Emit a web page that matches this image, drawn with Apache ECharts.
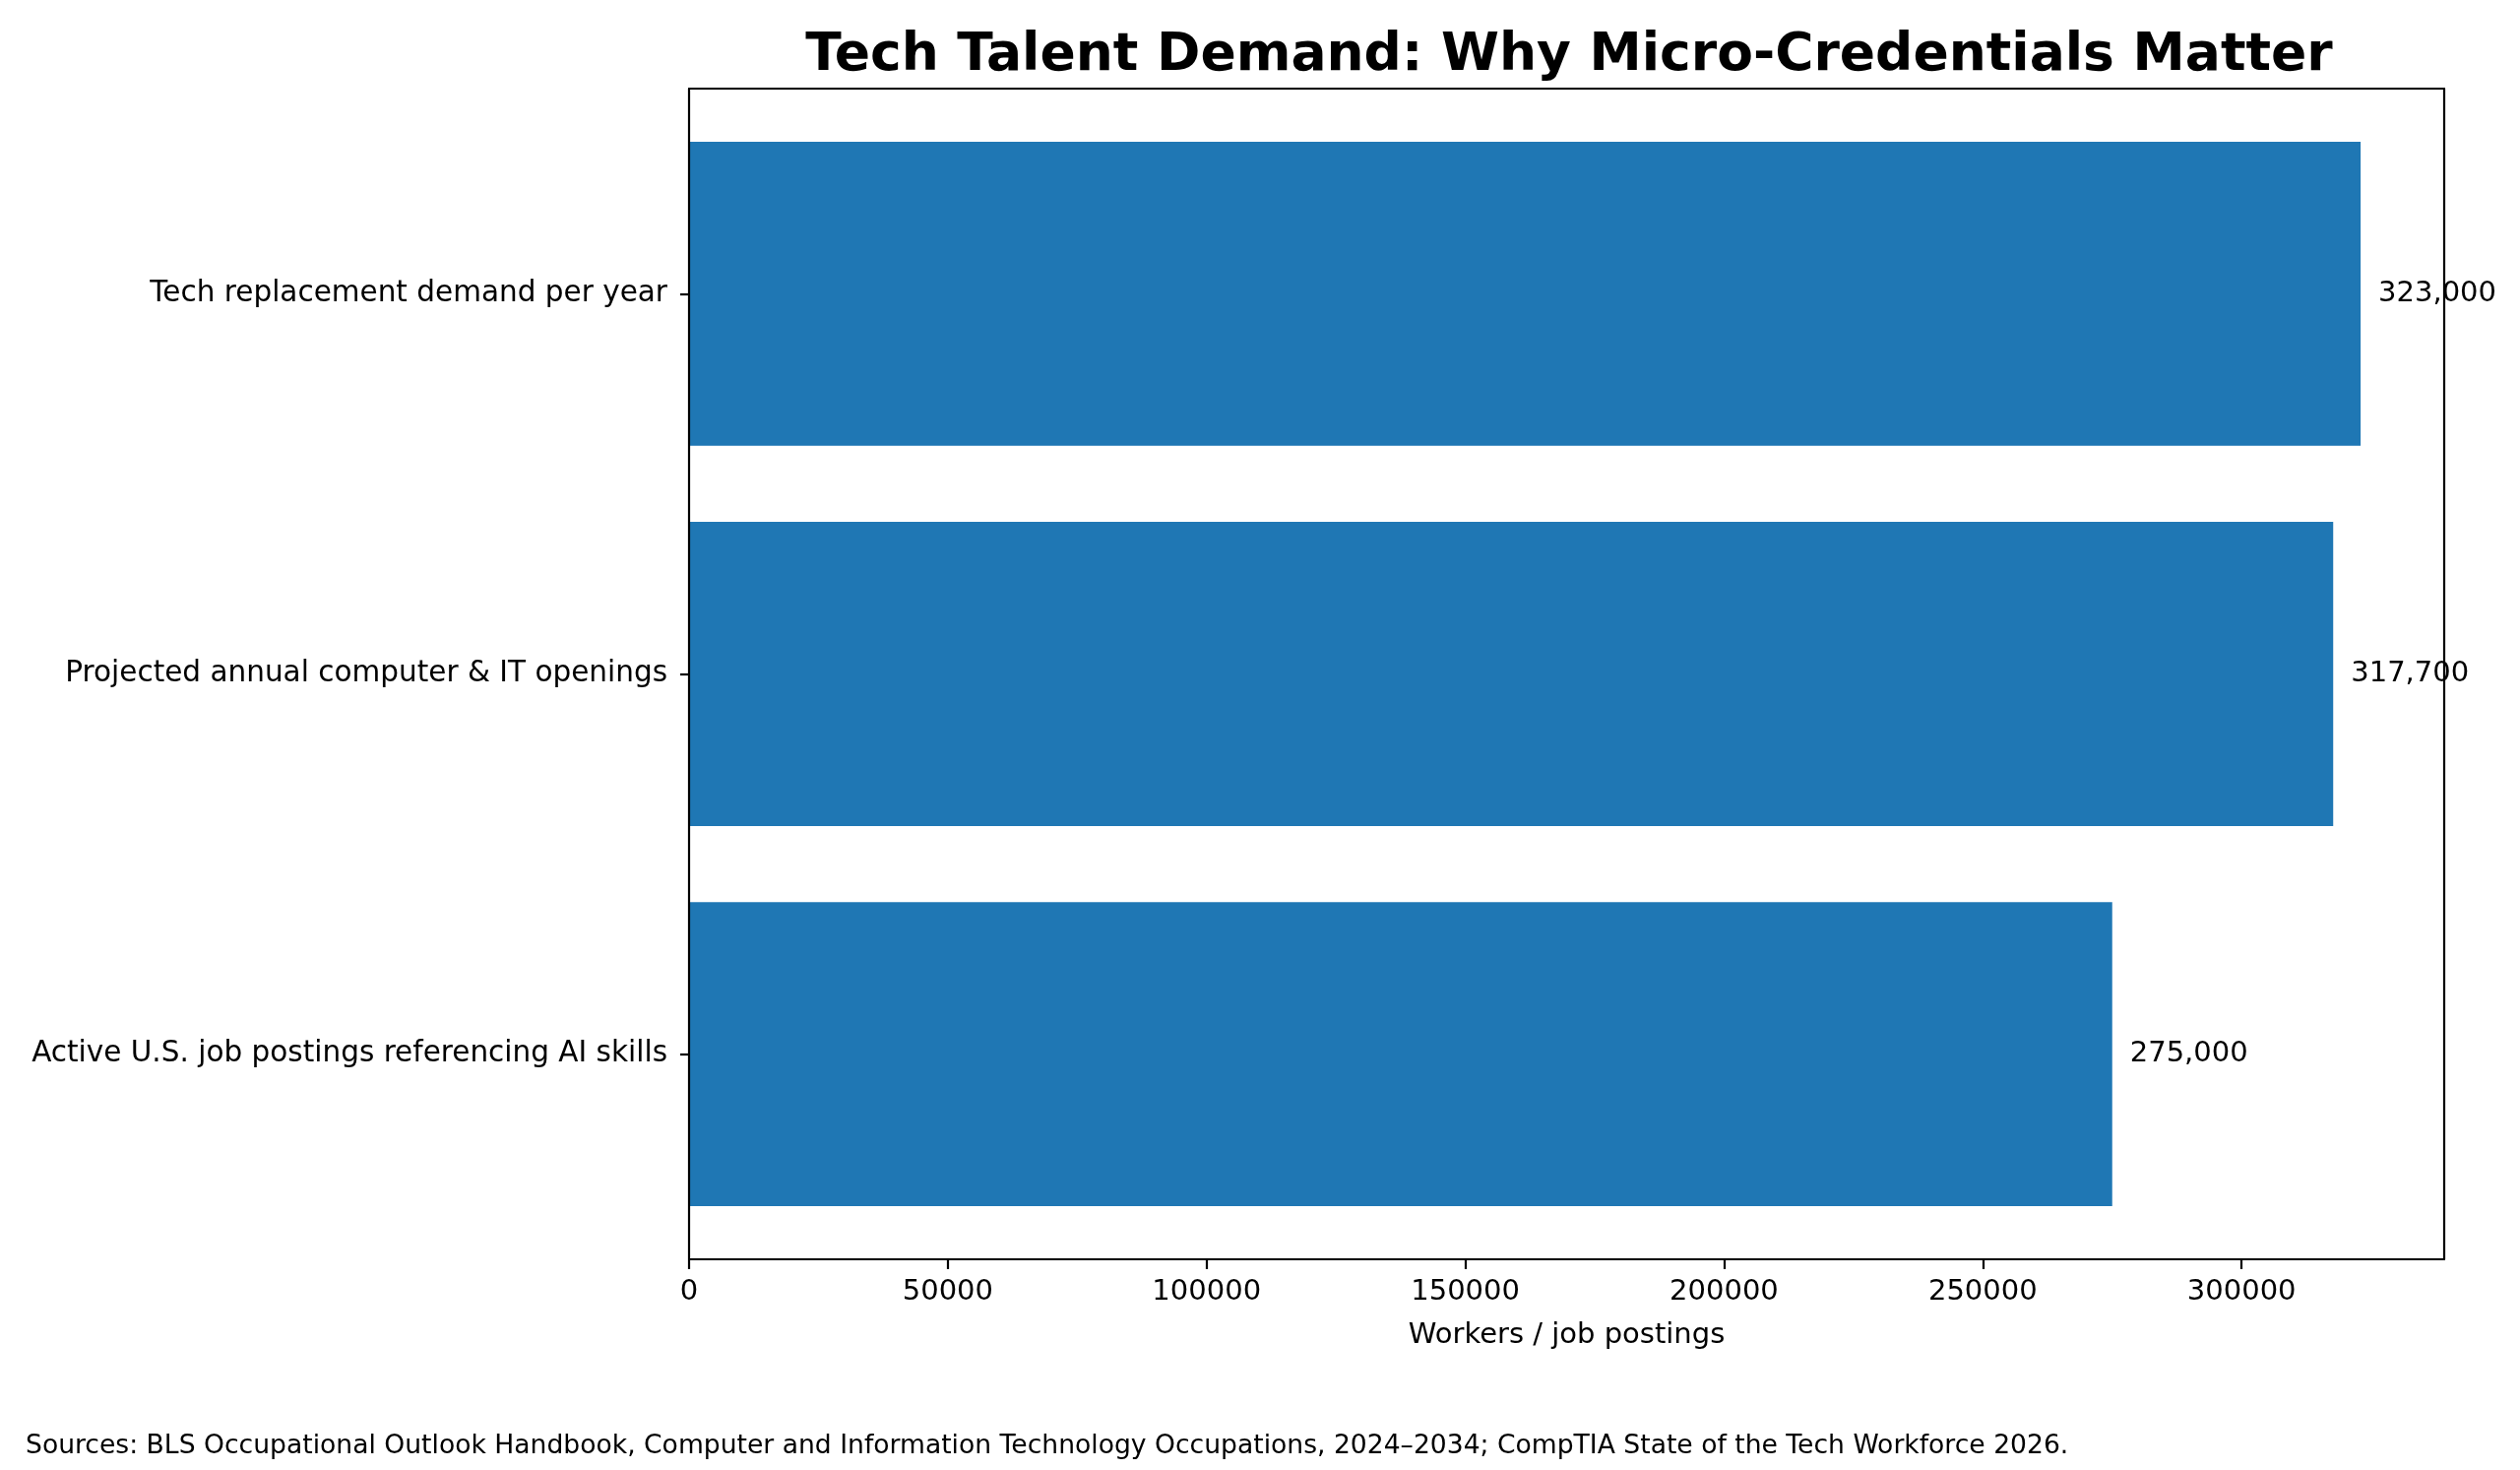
<!DOCTYPE html>
<html>
<head>
<meta charset="utf-8">
<script src="https://cdn.jsdelivr.net/npm/echarts@6/dist/echarts.min.js"></script>
<style>
html,body{margin:0;padding:0;background:#fff;}
#chart{width:2560px;height:1493px;}
</style>
</head>
<body>
<div id="chart"></div>
<script>
const categories = [
  "Tech replacement demand per year",
  "Projected annual computer & IT openings",
  "Active U.S. job postings referencing AI skills"
];
const values = [323000, 317700, 275000];
const xTicks = [0, 50000, 100000, 150000, 200000, 250000, 300000];
const xMax = 339150;
const titleText = "Tech Talent Demand: Why Micro-Credentials Matter";
const xAxisTitle = "Workers / job postings";
const sourceText = "Sources: BLS Occupational Outlook Handbook, Computer and Information Technology Occupations, 2024\u20132034; CompTIA State of the Tech Workforce 2026.";

const FONT = "DejaVu Sans";
const chart = echarts.init(document.getElementById('chart'), null, {renderer: 'canvas'});
const frameLine = {show: true, onZero: false, lineStyle: {color: '#000', width: 2.2}};

const option = {
  backgroundColor: '#fff',
  animation: false,
  textStyle: {fontFamily: FONT, color: '#000'},
  graphic: [
    {type: 'text', x: 1594, y: 57, style: {text: titleText, font: 'bold 53.5px "DejaVu Sans"', fill: '#000', align: 'center', verticalAlign: 'middle'}},
    {type: 'text', x: 26, y: 1469, style: {text: sourceText, font: '26.6px "DejaVu Sans"', fill: '#000', align: 'left', verticalAlign: 'middle'}}
  ],
  grid: [
    {left: 700, right: 77, top: 90, bottom: 214, containLabel: false},
    {left: 700, right: 77, top: 105.4, bottom: 229.4, containLabel: false}
  ],
  xAxis: [
    {
      type: 'value', gridIndex: 0, position: 'bottom', min: 0, max: xMax, z: 10,
      axisLine: frameLine,
      axisTick: {show: true, length: 10, lineStyle: {color: '#000', width: 2.2}, customValues: xTicks},
      axisLabel: {show: true, customValues: xTicks, fontSize: 29, fontFamily: FONT, color: '#000', margin: 19,
                  formatter: v => String(v)},
      splitLine: {show: false},
      name: xAxisTitle, nameLocation: 'middle', nameGap: 63,
      nameTextStyle: {fontSize: 29, fontFamily: FONT, color: '#000', verticalAlign: 'top'}
    },
    {
      type: 'value', gridIndex: 0, position: 'top', min: 0, max: xMax, z: 10,
      axisLine: frameLine, axisTick: {show: false}, axisLabel: {show: false}, splitLine: {show: false}
    },
    {
      type: 'value', gridIndex: 1, min: 0, max: xMax, show: false
    }
  ],
  yAxis: [
    {
      type: 'value', gridIndex: 0, position: 'left', min: 0, max: 1, z: 10,
      axisLine: frameLine, axisTick: {show: false}, axisLabel: {show: false}, splitLine: {show: false}
    },
    {
      type: 'value', gridIndex: 0, position: 'right', min: 0, max: 1, z: 10,
      axisLine: frameLine, axisTick: {show: false}, axisLabel: {show: false}, splitLine: {show: false}
    },
    {
      type: 'category', gridIndex: 1, data: categories, inverse: true, z: 10,
      axisLine: {show: false},
      axisTick: {show: true, alignWithLabel: true, length: 9, lineStyle: {color: '#000', width: 2.2}},
      axisLabel: {fontSize: 29.5, fontFamily: FONT, color: '#000', margin: 22}
    }
  ],
  series: [
    {
      type: 'bar', xAxisIndex: 2, yAxisIndex: 2, data: values,
      barCategoryGap: '20%',
      itemStyle: {color: '#1f77b4'},
      label: {
        show: true, position: 'right', distance: 18,
        fontSize: 29, fontFamily: FONT, color: '#000',
        formatter: p => p.value.toLocaleString('en-US')
      }
    }
  ]
};
chart.setOption(option);
</script>
</body>
</html>
